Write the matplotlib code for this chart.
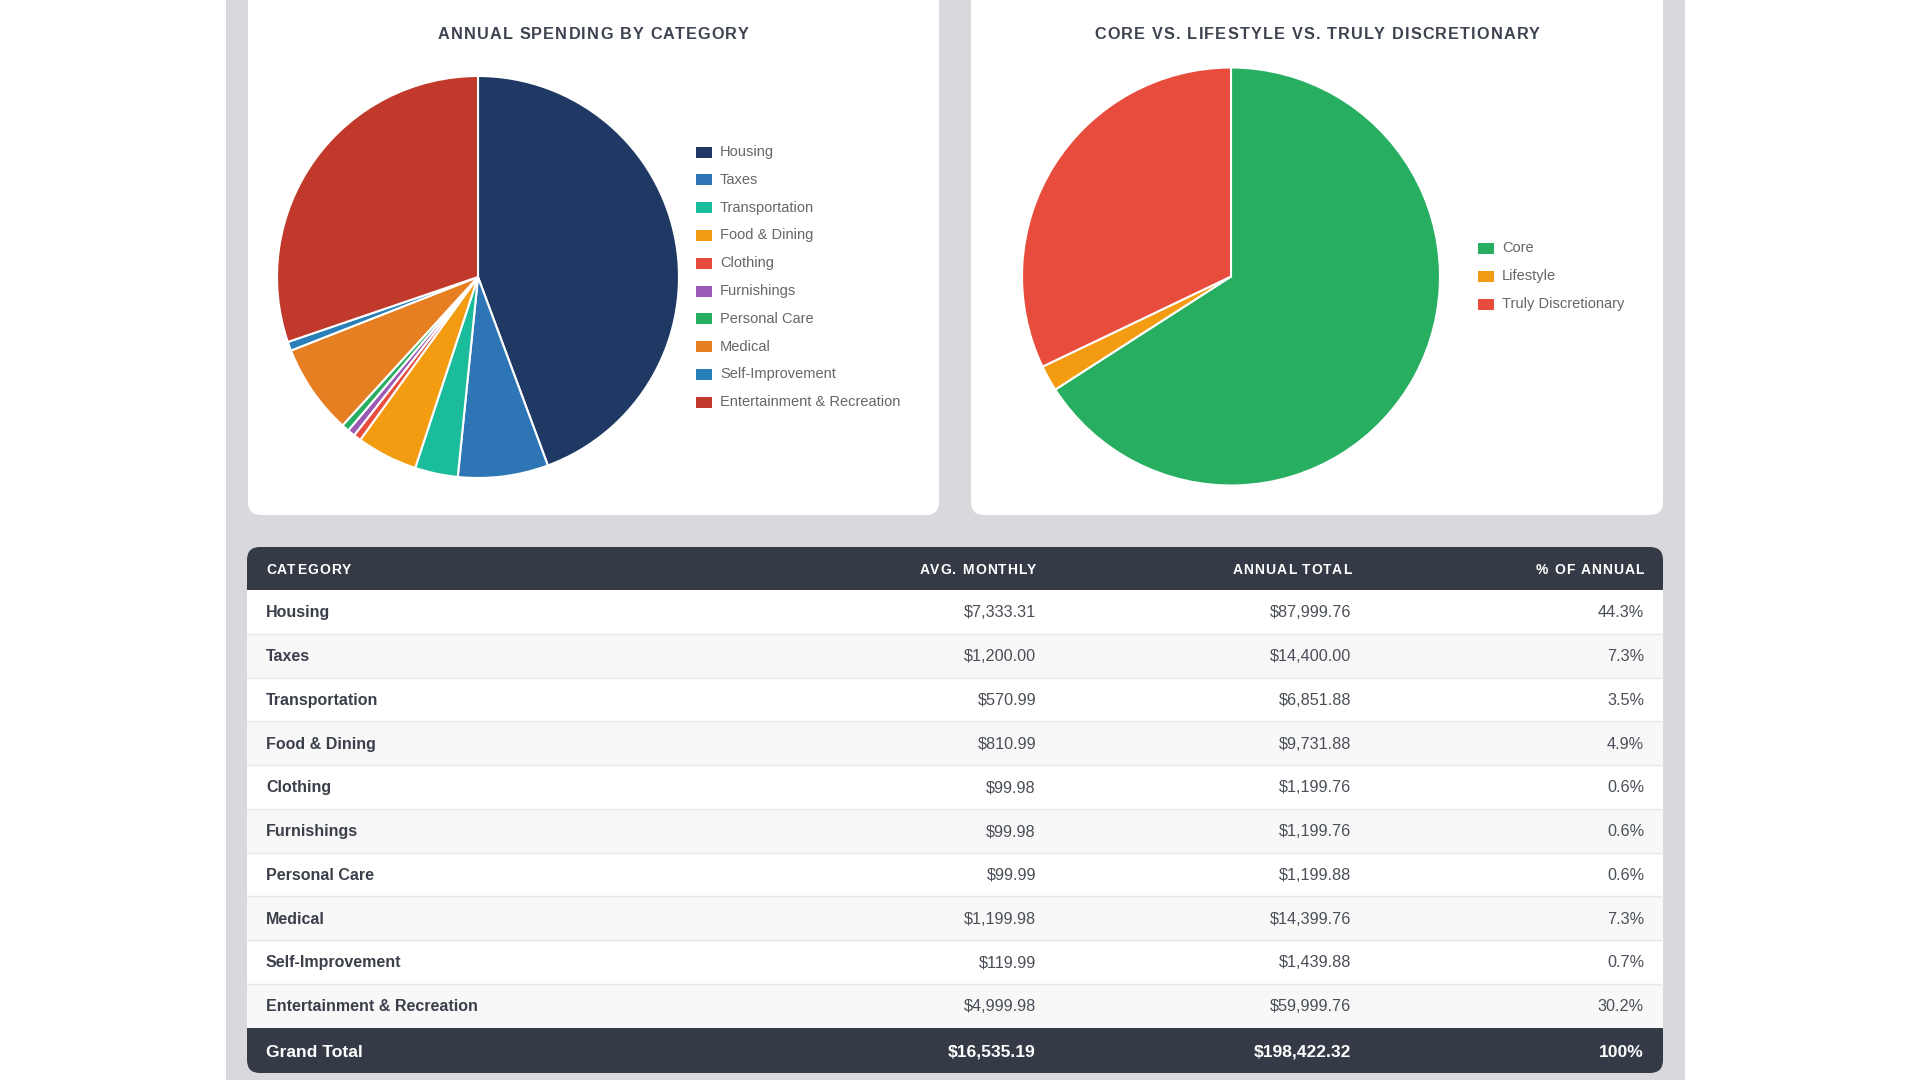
import matplotlib
matplotlib.use('Agg')
import matplotlib.pyplot as plt
from matplotlib.patches import FancyBboxPatch, Rectangle

plt.rcParams['font.family'] = ['Liberation Sans', 'DejaVu Sans']

# ---------------- data ----------------
categories = ['Housing', 'Taxes', 'Transportation', 'Food & Dining', 'Clothing',
              'Furnishings', 'Personal Care', 'Medical', 'Self-Improvement',
              'Entertainment & Recreation']
avg_monthly = [7333.31, 1200.00, 570.99, 810.99, 99.98, 99.98, 99.99, 1199.98, 119.99, 4999.98]
annual_total = [87999.76, 14400.00, 6851.88, 9731.88, 1199.76, 1199.76, 1199.88,
                14399.76, 1439.88, 59999.76]
pct_annual = [44.3, 7.3, 3.5, 4.9, 0.6, 0.6, 0.6, 7.3, 0.7, 30.2]
category_colors = ['#1f3864', '#2e75b6', '#1abc9c', '#f39c12', '#e74c3c',
                   '#9b59b6', '#27ae60', '#e67e22', '#2980b9', '#c0392b']

total_label = 'Grand Total'
total_monthly = 16535.19
total_annual = 198422.32
total_pct_label = '100%'

group_labels = ['Core', 'Lifestyle', 'Truly Discretionary']
group_share = [65.9, 2.0, 32.1]
group_colors = ['#27ae60', '#f39c12', '#e74c3c']

column_headers = ['CATEGORY', 'AVG. MONTHLY', 'ANNUAL TOTAL', '% OF ANNUAL']
title_left = 'ANNUAL SPENDING BY CATEGORY'
title_right = 'CORE VS. LIFESTYLE VS. TRULY DISCRETIONARY'

# ---------------- layout ----------------
W, H = 1920, 1080
fig = plt.figure(figsize=(19.2, 10.8), dpi=100)
fig.patch.set_facecolor('white')
bg = fig.add_axes([0, 0, 1, 1])
bg.set_xlim(0, W)
bg.set_ylim(H, 0)
bg.axis('off')
renderer = fig.canvas.get_renderer()

GRAY = '#d8d8dd'
DARK = '#343a46'
TITLE_C = '#3d4350'

bg.add_patch(Rectangle((226, 0), 1685 - 226, H, facecolor=GRAY, edgecolor='none', zorder=0))


def card(x0, y0, x1, y1, color, r=13, z=1):
    p = FancyBboxPatch((x0 + r, y0 + r), (x1 - x0) - 2 * r, (y1 - y0) - 2 * r,
                       boxstyle=f'round,pad={r},rounding_size={r}',
                       facecolor=color, edgecolor='none', zorder=z)
    bg.add_patch(p)


def text_width(s, **kw):
    t = bg.text(0, 0, s, **kw)
    w = t.get_window_extent(renderer).width
    t.remove()
    return w


def spaced_text(x, y, s, spacing, ha='left', **kw):
    """Draw text with extra letter spacing (pixels)."""
    full = text_width(s, **kw) + spacing * (len(s) - 1)
    if ha == 'left':
        x0 = x
    elif ha == 'right':
        x0 = x - full
    else:
        x0 = x - full / 2
    for k, ch in enumerate(s):
        if ch == ' ':
            continue
        off = text_width(s[:k + 1], **kw) - text_width(ch, **kw) if k > 0 else 0
        bg.text(x0 + off + k * spacing, y, ch, ha='left', va='center', zorder=5, **kw)


# chart cards
card(248, -40, 939, 515, 'white')
card(971, -40, 1663, 515, 'white')

spaced_text(593, 34.5, title_left, 1.2, ha='center', fontsize=11.7,
            fontweight='bold', color=TITLE_C)
spaced_text(1317, 34.5, title_right, 1.2, ha='center', fontsize=11.7,
            fontweight='bold', color=TITLE_C)


def pie_axes(cx, cy, r):
    return fig.add_axes([(cx - r) / W, 1 - (cy + r) / H, 2 * r / W, 2 * r / H])


ax1 = pie_axes(478, 277, 201)
ax1.pie(annual_total, colors=category_colors, startangle=90, counterclock=False,
        wedgeprops=dict(edgecolor='white', linewidth=1.5))
ax1.set_xlim(-1, 1)
ax1.set_ylim(-1, 1)
ax1.set_aspect('equal')
ax1.axis('off')

ax2 = pie_axes(1231, 276.5, 209)
ax2.pie(group_share, colors=group_colors, startangle=90, counterclock=False,
        wedgeprops=dict(edgecolor='white', linewidth=1.5))
ax2.set_xlim(-1, 1)
ax2.set_ylim(-1, 1)
ax2.set_aspect('equal')
ax2.axis('off')


def legend(labels, colors, x, y0, dy):
    for i, (lab, col) in enumerate(zip(labels, colors)):
        y = y0 + i * dy
        bg.add_patch(Rectangle((x, y - 5.5), 16, 11, facecolor=col, edgecolor='none', zorder=5))
        bg.text(x + 24, y, lab, ha='left', va='center', fontsize=10.5,
                color='#666666', zorder=5)


legend(categories, category_colors, 696, 152, 27.8)
legend(group_labels, group_colors, 1478, 248, 28)

# ---------------- table ----------------
tx0, tx1 = 247, 1663
ty0, ty1 = 547, 1073
head_b = 590
row_h = 43.75
body_b = head_b + row_h * len(categories)

card(tx0, ty0, tx1, ty1, DARK, r=13, z=1)
bg.add_patch(Rectangle((tx0, head_b), tx1 - tx0, body_b - head_b,
                       facecolor='white', edgecolor='none', zorder=2))

col_x = [266, 1036, 1351, 1644]
col_ha = ['left', 'right', 'right', 'right']

for j, h in enumerate(column_headers):
    spaced_text(col_x[j], (ty0 + head_b) / 2 + 2, h, 1.1, ha=col_ha[j],
                fontsize=10, fontweight='bold', color='white')

for i, cat in enumerate(categories):
    top = head_b + i * row_h
    if i % 2 == 1:
        bg.add_patch(Rectangle((tx0, top), tx1 - tx0, row_h, facecolor='#f8f8f9',
                               edgecolor='none', zorder=2.5))
    if i < len(categories) - 1:
        bg.plot([tx0, tx1], [top + row_h, top + row_h], color='#e8e8ea', lw=1, zorder=3)
    yc = top + row_h / 2 + 1
    vals = [cat, f'${avg_monthly[i]:,.2f}', f'${annual_total[i]:,.2f}', f'{pct_annual[i]:.1f}%']
    for j, v in enumerate(vals):
        if j == 0:
            bg.text(col_x[j], yc, v, ha='left', va='center', fontsize=11.5,
                    fontweight='bold', color='#3a3f4a', zorder=5)
        else:
            bg.text(col_x[j], yc, v, ha='right', va='center', fontsize=11.7,
                    color='#4a4f57', zorder=5)

yt = (body_b + ty1) / 2 + 2
tot_vals = [total_label, f'${total_monthly:,.2f}', f'${total_annual:,.2f}', total_pct_label]
for j, v in enumerate(tot_vals):
    bg.text(col_x[j], yt, v, ha=col_ha[j], va='center', fontsize=12.6,
            fontweight='bold', color='white', zorder=5)

fig.savefig('out.png', dpi=100, facecolor=fig.get_facecolor())
